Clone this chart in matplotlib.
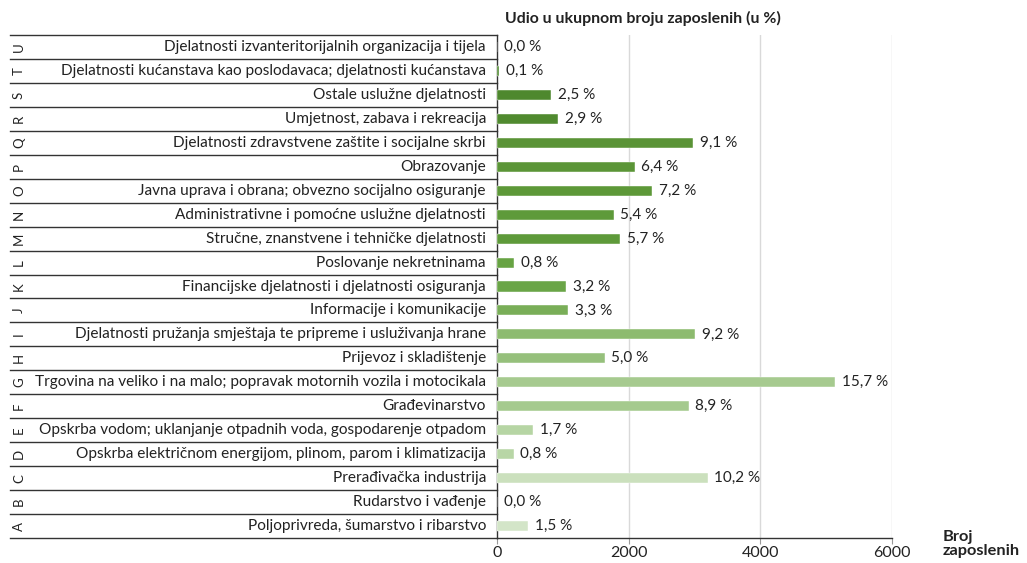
import numpy as np
import matplotlib.pyplot as plt
from matplotlib.transforms import blended_transform_factory

plt.rcParams['font.family'] = ['Lato', 'DejaVu Sans']

# data, bottom (A) to top (U)
codes = ['A', 'B', 'C', 'D', 'E', 'F', 'G', 'H', 'I', 'J', 'K',
         'L', 'M', 'N', 'O', 'P', 'Q', 'R', 'S', 'T', 'U']
sectors = [
    'Poljoprivreda, šumarstvo i ribarstvo',
    'Rudarstvo i vađenje',
    'Prerađivačka industrija',
    'Opskrba električnom energijom, plinom, parom i klimatizacija',
    'Opskrba vodom; uklanjanje otpadnih voda, gospodarenje otpadom',
    'Građevinarstvo',
    'Trgovina na veliko i na malo; popravak motornih vozila i motocikala',
    'Prijevoz i skladištenje',
    'Djelatnosti pružanja smještaja te pripreme i usluživanja hrane',
    'Informacije i komunikacije',
    'Financijske djelatnosti i djelatnosti osiguranja',
    'Poslovanje nekretninama',
    'Stručne, znanstvene i tehničke djelatnosti',
    'Administrativne i pomoćne uslužne djelatnosti',
    'Javna uprava i obrana; obvezno socijalno osiguranje',
    'Obrazovanje',
    'Djelatnosti zdravstvene zaštite i socijalne skrbi',
    'Umjetnost, zabava i rekreacija',
    'Ostale uslužne djelatnosti',
    'Djelatnosti kućanstava kao poslodavaca; djelatnosti kućanstava',
    'Djelatnosti izvanteritorijalnih organizacija i tijela',
]
employees = [470, 5, 3200, 255, 550, 2910, 5135, 1635, 3010, 1080, 1050,
             265, 1870, 1770, 2360, 2090, 2980, 930, 820, 30, 0]
share = [1.5, 0.0, 10.2, 0.8, 1.7, 8.9, 15.7, 5.0, 9.2, 3.3, 3.2,
         0.8, 5.7, 5.4, 7.2, 6.4, 9.1, 2.9, 2.5, 0.1, 0.0]
x_ticks = [0, 2000, 4000, 6000]

colors = ['#d3e5c8', '#d0e3c4', '#cbe0bd', '#b8d6a6', '#b6d5a4', '#a5ca8e',
          '#a6ca8f', '#96c07c', '#8dbb6f', '#79ae58', '#6aa547', '#67a343',
          '#5e9a3a', '#5e9a3a', '#5d9838', '#5b9537', '#5a9336', '#508a2f',
          '#4e882e', '#4e882e', '#4e882e']

W, H = 1027, 563
fig = plt.figure(figsize=(W / 100, H / 100), dpi=100)
x0, x1 = 497, 892
y_top, y_bot = 35, 538
ax = fig.add_axes([x0 / W, (H - y_bot) / H, (x1 - x0) / W, (y_bot - y_top) / H])

n = len(codes)
y = np.arange(n)
ax.barh(y, employees, height=0.42, color=colors, edgecolor='white', linewidth=0.3, zorder=3)
for yi, v, s in zip(y, employees, share):
    ax.text(v + 100, yi, f'{s:.1f} %'.replace('.', ','), va='center', ha='left',
            fontsize=11, color='#222222')

ax.set_xlim(0, 6000)
ax.set_ylim(-0.5, n - 0.5)
ax.set_xticks(x_ticks)
ax.set_xticklabels([str(t) for t in x_ticks], fontsize=11.5, color='#222222')
ax.set_yticks([])
ax.tick_params(axis='x', length=4, color='#999999', pad=1.5)
for t in x_ticks[1:]:
    ax.axvline(t, color='#d9d9d9', linewidth=1, zorder=1)
for sp in ['top', 'right']:
    ax.spines[sp].set_visible(False)
ax.spines['left'].set_color('#333333')
ax.spines['bottom'].set_color('#333333')
ax.spines['left'].set_linewidth(1)
ax.spines['bottom'].set_linewidth(1)

# table on the left
tr = blended_transform_factory(fig.transFigure, ax.transData)
xl = 10 / W
xr = x0 / W
for b in np.arange(-0.5, n, 1.0):
    ax.plot([xl, xr], [b, b], color='#333333', linewidth=1, transform=tr, clip_on=False)
for yi, c, lab in zip(y, codes, sectors):
    ax.text(19 / W, yi, c, rotation=90, ha='center', va='center', fontsize=9.5,
            color='#222222', transform=tr)
    ax.text(486 / W, yi, lab, ha='right', va='center', fontsize=11.1,
            color='#222222', transform=tr)

fig.text(505 / W, 1 - 18 / H, 'Udio u ukupnom broju zaposlenih (u %)',
         fontsize=11.4, fontweight='bold', color='#222222', va='center', ha='left')
fig.text(943 / W, 1 - 544 / H, 'Broj\nzaposlenih', fontsize=11.8,
         fontweight='bold', color='#222222', va='center', ha='left', linespacing=1.05)

fig.savefig('out.png', dpi=100)
